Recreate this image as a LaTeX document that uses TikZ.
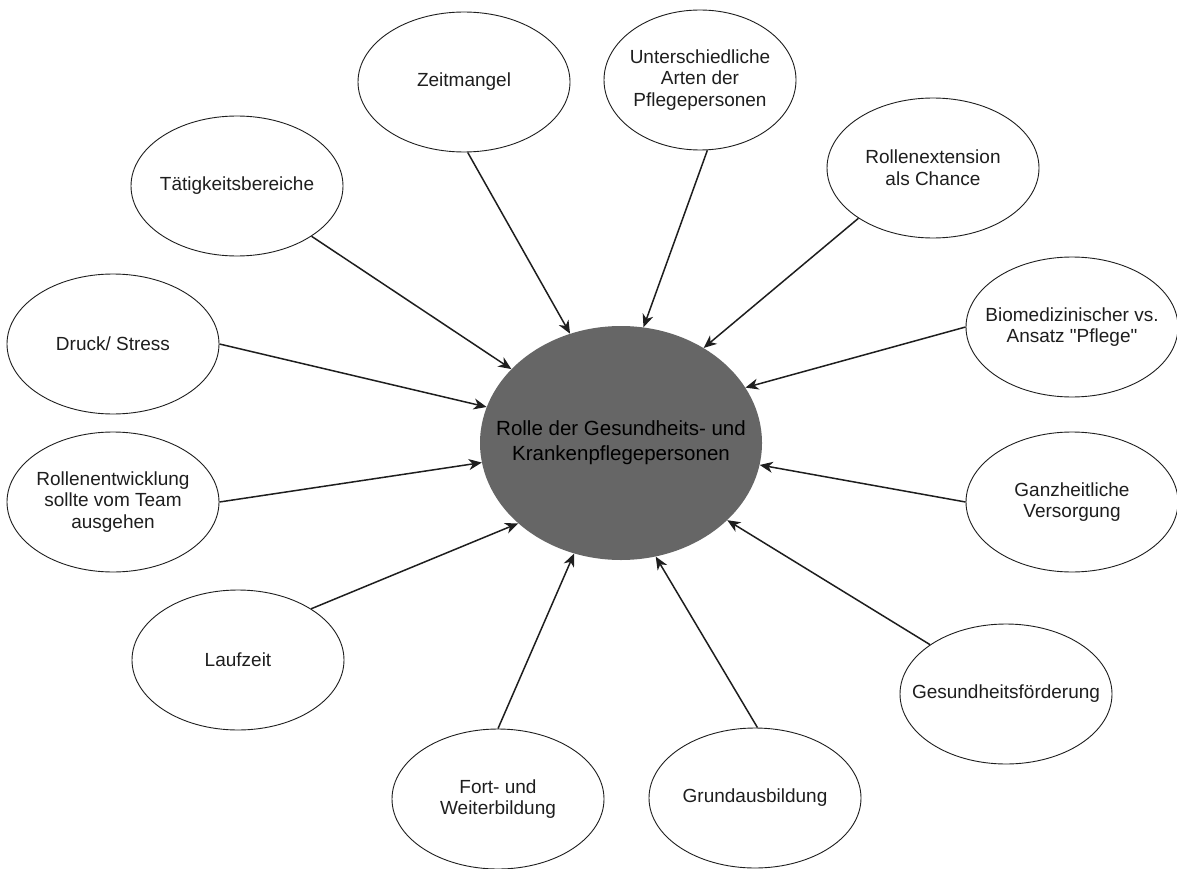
\documentclass[tikz,border=0pt]{standalone}
\usepackage{fontspec}
\setmainfont{Liberation Sans}
\usetikzlibrary{arrows.meta,shapes.geometric}
\definecolor{coregray}{HTML}{666666}
\definecolor{inkgray}{HTML}{1E1E1E}
\tikzset{
  topic/.style={ellipse, draw=inkgray, line width=0.9pt, fill=white,
    minimum width=212pt, minimum height=140pt, inner xsep=-40pt, inner ysep=0pt,
    align=center, text=inkgray, font=\fontsize{19}{21.8}\selectfont},
  core/.style={ellipse, fill=coregray, draw=none,
    minimum width=282pt, minimum height=234pt, inner xsep=-40pt, inner ysep=0pt,
    align=center, text=black, font=\fontsize{20.5}{25}\selectfont},
  feeds/.style={draw=inkgray, line width=1.5pt,
    -{Stealth[length=13pt,width=11pt,inset=4pt]}}
}
\begin{document}
\begin{tikzpicture}[x=1pt,y=-1pt]
  \useasboundingbox (0,0) rectangle (1177,869);

  % central topic
  \node[core] (rolle) at (621,443) {Rolle der Gesundheits- und\\Krankenpflegepersonen};

  % surrounding aspects
  \node[topic] (zeit)   at (464,82)   {Zeitmangel};
  \node[topic, minimum width=192pt] (arten) at (700,80) {Unterschiedliche\\Arten der\\Pflegepersonen};
  \node[topic] (ext)    at (933,168)  {Rollenextension\\als Chance};
  \node[topic] (bio)    at (1072,327) {Biomedizinischer vs.\\Ansatz \textquotedbl Pflege\textquotedbl};
  \node[topic] (ganz)   at (1072,502) {Ganzheitliche\\Versorgung};
  \node[topic] (gesund) at (1006,694) {Gesundheitsförderung};
  \node[topic] (grund)  at (755,798)  {Grundausbildung};
  \node[topic] (fort)   at (498,799)  {Fort- und\\Weiterbildung};
  \node[topic] (lauf)   at (238,660)  {Laufzeit};
  \node[topic] (team)   at (113,502)  {Rollenentwicklung\\sollte vom Team\\ausgehen};
  \node[topic] (druck)  at (113,344)  {Druck/ Stress};
  \node[topic] (taet)   at (237,186)  {Tätigkeitsbereiche};

  % connectors into the central topic
  \draw[feeds] (zeit.-87)   -- (rolle.115);
  \draw[feeds] (arten.-84)  -- (rolle.79);
  \draw[feeds] (ext.214)    -- (rolle.49);
  \draw[feeds] (bio.180)    -- (rolle.24);
  \draw[feeds] (ganz.180)   -- (rolle.-9);
  \draw[feeds] (gesund.147) -- (rolle.-36);
  \draw[feeds] (grund.88)   -- (rolle.-73);
  \draw[feeds] (fort.90)    -- (rolle.-113);
  \draw[feeds] (lauf.35)    -- (rolle.218);
  \draw[feeds] (team.0)     -- (rolle.188);
  \draw[feeds] (druck.0)    -- (rolle.165);
  \draw[feeds] (taet.-34)   -- (rolle.146);
\end{tikzpicture}
\end{document}
